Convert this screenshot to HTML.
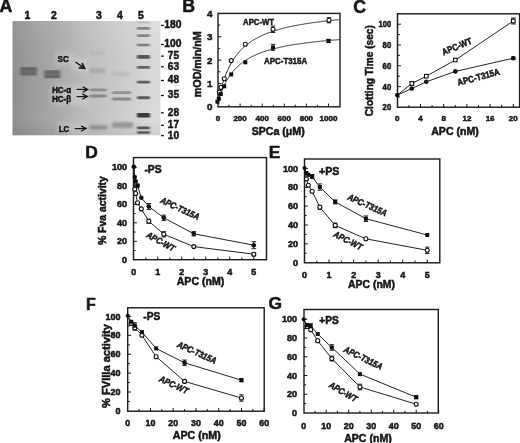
<!DOCTYPE html>
<html><head><meta charset="utf-8"><style>
html,body{margin:0;padding:0;background:#fff;}
body{width:520px;height:443px;overflow:hidden;}
svg{display:block;}
text{font-family:"Liberation Sans", sans-serif;font-weight:bold;fill:#151515;stroke:#151515;stroke-width:0.5px;}
</style></head><body>
<svg width="520" height="443" viewBox="0 0 520 443">
<defs>
<filter id="soft" x="0" y="0" width="520" height="443" filterUnits="userSpaceOnUse"><feGaussianBlur stdDeviation="0.5"/></filter>
<filter id="b1" x="-30%" y="-100%" width="160%" height="300%"><feGaussianBlur stdDeviation="0.9 0.7"/></filter>
<filter id="b2" x="-30%" y="-100%" width="160%" height="300%"><feGaussianBlur stdDeviation="1.2 1.0"/></filter>
<filter id="b3" x="-50%" y="-50%" width="200%" height="200%"><feGaussianBlur stdDeviation="2.5"/></filter>
<linearGradient id="gelg" x1="0" y1="0" x2="1" y2="0">
<stop offset="0" stop-color="#8c8c8c"/>
<stop offset="0.025" stop-color="#939393"/>
<stop offset="0.06" stop-color="#969696"/>
<stop offset="0.19" stop-color="#a2a2a2"/>
<stop offset="0.36" stop-color="#aeaeae"/>
<stop offset="0.48" stop-color="#bcbcbc"/>
<stop offset="0.65" stop-color="#c8c8c8"/>
<stop offset="0.81" stop-color="#d2d2d2"/>
<stop offset="0.93" stop-color="#dadada"/>
<stop offset="1" stop-color="#dddddd"/>
</linearGradient>
<linearGradient id="gelv" x1="0" y1="0" x2="0" y2="1">
<stop offset="0" stop-color="#fff" stop-opacity="0.06"/>
<stop offset="0.85" stop-color="#000" stop-opacity="0"/>
<stop offset="1" stop-color="#000" stop-opacity="0.06"/>
</linearGradient>
</defs>
<rect width="520" height="443" fill="#fff"/>
<g filter="url(#soft)">
<rect x="12.5" y="21" width="148" height="114.3" fill="url(#gelg)"/>
<rect x="12.5" y="21" width="148" height="114.3" fill="url(#gelv)"/>
<rect x="20.3" y="67.2" width="16.5" height="8.2" rx="0.8" fill="#6c6c6c" fill-opacity="0.95" filter="url(#b1)"/>
<rect x="20.5" y="67.3" width="16.1" height="3.2" rx="0.8" fill="#555" fill-opacity="0.4" filter="url(#b1)"/>
<rect x="20.5" y="72.2" width="16.1" height="3" rx="0.8" fill="#5a5a5a" fill-opacity="0.3" filter="url(#b1)"/>
<rect x="44.3" y="70.2" width="15.9" height="8" rx="0.8" fill="#6e6e6e" fill-opacity="0.95" filter="url(#b1)"/>
<rect x="44.5" y="70.4" width="15.5" height="3" rx="0.8" fill="#585858" fill-opacity="0.35" filter="url(#b1)"/>
<rect x="44.5" y="74.9" width="15.5" height="3" rx="0.8" fill="#585858" fill-opacity="0.35" filter="url(#b1)"/>
<rect x="90" y="51.5" width="15" height="3" rx="0.8" fill="#acacac" fill-opacity="0.5" filter="url(#b2)"/>
<rect x="89.5" y="68.3" width="16" height="5" rx="0.8" fill="#999" fill-opacity="0.6" filter="url(#b2)"/>
<rect x="89.5" y="88.5" width="17" height="2.8" rx="0.8" fill="#7c7c7c" fill-opacity="0.75" filter="url(#b1)"/>
<rect x="89.5" y="94.6" width="17" height="2.8" rx="0.8" fill="#787878" fill-opacity="0.8" filter="url(#b1)"/>
<rect x="89.5" y="125.6" width="17.5" height="4" rx="0.8" fill="#7e7e7e" fill-opacity="0.8" filter="url(#b2)"/>
<rect x="112" y="72.1" width="18" height="3.8" rx="0.8" fill="#acacac" fill-opacity="0.5" filter="url(#b2)"/>
<rect x="112" y="91.2" width="19" height="2.8" rx="0.8" fill="#7c7c7c" fill-opacity="0.75" filter="url(#b1)"/>
<rect x="112" y="97.6" width="19" height="2.8" rx="0.8" fill="#7a7a7a" fill-opacity="0.8" filter="url(#b1)"/>
<rect x="112.5" y="122.3" width="20.5" height="5.4" rx="0.8" fill="#868686" fill-opacity="0.75" filter="url(#b2)"/>
<rect x="137" y="21.6" width="13" height="1.6" rx="0.8" fill="#a4a4a4" fill-opacity="0.55" filter="url(#b1)"/>
<rect x="137" y="27.1" width="13" height="2.6" rx="0.8" fill="#767676" fill-opacity="0.85" filter="url(#b1)"/>
<rect x="137" y="34.3" width="13" height="2.6" rx="0.8" fill="#767676" fill-opacity="0.85" filter="url(#b1)"/>
<rect x="137" y="43.65" width="13" height="2.7" rx="0.8" fill="#727272" fill-opacity="0.88" filter="url(#b1)"/>
<rect x="137" y="55" width="13" height="3.8" rx="0.8" fill="#454545" fill-opacity="0.9" filter="url(#b1)"/>
<rect x="137" y="65.95" width="13" height="2.9" rx="0.8" fill="#555" fill-opacity="0.9" filter="url(#b1)"/>
<rect x="137" y="80.65" width="13" height="2.9" rx="0.8" fill="#505050" fill-opacity="0.9" filter="url(#b1)"/>
<rect x="137" y="96.25" width="13" height="2.9" rx="0.8" fill="#4e4e4e" fill-opacity="0.9" filter="url(#b1)"/>
<rect x="137" y="113.1" width="13" height="4.4" rx="0.8" fill="#333" fill-opacity="0.95" filter="url(#b1)"/>
<rect x="137" y="126.45" width="13" height="2.7" rx="0.8" fill="#4a4a4a" fill-opacity="0.9" filter="url(#b1)"/>
<rect x="137" y="131.35" width="13" height="2.5" rx="0.8" fill="#4e4e4e" fill-opacity="0.9" filter="url(#b1)"/>
<rect x="55" y="52" width="18" height="13" fill="#fff" fill-opacity="0.2" filter="url(#b3)"/>
<rect x="72" y="58" width="16" height="14" fill="#fff" fill-opacity="0.2" filter="url(#b3)"/>
<rect x="51" y="85" width="38" height="20" fill="#fff" fill-opacity="0.2" filter="url(#b3)"/>
<rect x="57" y="122" width="31" height="12" fill="#fff" fill-opacity="0.2" filter="url(#b3)"/>
<text x="63.3" y="61.98" font-size="9.4" text-anchor="middle" textLength="11.4" lengthAdjust="spacingAndGlyphs">SC</text>
<text x="61.6" y="93.4" font-size="8.6" text-anchor="middle" textLength="18.8" lengthAdjust="spacingAndGlyphs">HC-α</text>
<text x="61.6" y="101.6" font-size="8.6" text-anchor="middle" textLength="18.8" lengthAdjust="spacingAndGlyphs">HC-β</text>
<text x="63.9" y="131.94" font-size="9" text-anchor="middle" textLength="10.4" lengthAdjust="spacingAndGlyphs">LC</text>
<line x1="75.5" y1="62" x2="84.21" y2="68.15" stroke="#151515" stroke-width="1.3"/>
<polygon points="84.7,68.5 79.13,67.97 82.34,63.42" fill="#222" fill-opacity="0.55"/>
<polyline points="79.13,67.97 84.7,68.5 82.34,63.42" fill="none" stroke="#151515" stroke-width="1.5" stroke-linejoin="miter" stroke-linecap="round"/>
<line x1="76.6" y1="89.4" x2="87" y2="89.4" stroke="#151515" stroke-width="1.2"/>
<polyline points="83.21,91.8 87.6,89.4 83.21,87" fill="none" stroke="#151515" stroke-width="1.4" stroke-linejoin="miter" stroke-linecap="round"/>
<line x1="76.6" y1="96.6" x2="86.6" y2="96.6" stroke="#151515" stroke-width="1.2"/>
<polyline points="82.81,99 87.2,96.6 82.81,94.2" fill="none" stroke="#151515" stroke-width="1.4" stroke-linejoin="miter" stroke-linecap="round"/>
<line x1="74.8" y1="128.6" x2="85.3" y2="128.6" stroke="#151515" stroke-width="1.2"/>
<polyline points="81.51,131 85.9,128.6 81.51,126.2" fill="none" stroke="#151515" stroke-width="1.4" stroke-linejoin="miter" stroke-linecap="round"/>
<text x="27.5" y="18.73" font-size="10.4" text-anchor="middle">1</text>
<text x="54" y="18.73" font-size="10.4" text-anchor="middle">2</text>
<text x="99" y="18.73" font-size="10.4" text-anchor="middle">3</text>
<text x="120" y="18.73" font-size="10.4" text-anchor="middle">4</text>
<text x="141" y="18.73" font-size="10.4" text-anchor="middle">5</text>
<line x1="161" y1="25.4" x2="163.8" y2="25.4" stroke="#151515" stroke-width="1.3"/>
<text x="164.2" y="28.3" font-size="10.6" text-anchor="start" textLength="17.2" lengthAdjust="spacingAndGlyphs">180</text>
<line x1="161" y1="44.5" x2="163.8" y2="44.5" stroke="#151515" stroke-width="1.3"/>
<text x="164.2" y="47.4" font-size="10.6" text-anchor="start" textLength="17.2" lengthAdjust="spacingAndGlyphs">100</text>
<line x1="161" y1="56.1" x2="163.8" y2="56.1" stroke="#151515" stroke-width="1.3"/>
<text x="167.8" y="59" font-size="10.6" text-anchor="start" textLength="11.2" lengthAdjust="spacingAndGlyphs">75</text>
<line x1="161" y1="66.8" x2="163.8" y2="66.8" stroke="#151515" stroke-width="1.3"/>
<text x="167.8" y="69.7" font-size="10.6" text-anchor="start" textLength="11.2" lengthAdjust="spacingAndGlyphs">63</text>
<line x1="161" y1="80.5" x2="163.8" y2="80.5" stroke="#151515" stroke-width="1.3"/>
<text x="167.8" y="83.4" font-size="10.6" text-anchor="start" textLength="11.2" lengthAdjust="spacingAndGlyphs">48</text>
<line x1="161" y1="95.5" x2="163.8" y2="95.5" stroke="#151515" stroke-width="1.3"/>
<text x="167.8" y="98.4" font-size="10.6" text-anchor="start" textLength="11.2" lengthAdjust="spacingAndGlyphs">35</text>
<line x1="161" y1="112.8" x2="163.8" y2="112.8" stroke="#151515" stroke-width="1.3"/>
<text x="167.8" y="115.7" font-size="10.6" text-anchor="start" textLength="11.2" lengthAdjust="spacingAndGlyphs">28</text>
<line x1="161" y1="125.3" x2="163.8" y2="125.3" stroke="#151515" stroke-width="1.3"/>
<text x="167.8" y="128.2" font-size="10.6" text-anchor="start" textLength="11.2" lengthAdjust="spacingAndGlyphs">17</text>
<line x1="161" y1="135.6" x2="163.8" y2="135.6" stroke="#151515" stroke-width="1.3"/>
<text x="167.8" y="138.5" font-size="10.6" text-anchor="start" textLength="11.2" lengthAdjust="spacingAndGlyphs">10</text>
<text x="-0.4" y="12.3" font-size="17.8" text-anchor="start">A</text>
<text x="182.2" y="12.4" font-size="17.8" text-anchor="start">B</text>
<text x="353.2" y="12.6" font-size="17.8" text-anchor="start">C</text>
<text x="85.3" y="158.4" font-size="17.4" text-anchor="start">D</text>
<text x="268.8" y="158.4" font-size="17.4" text-anchor="start">E</text>
<text x="86" y="309.6" font-size="16" text-anchor="start">F</text>
<text x="268.6" y="308.9" font-size="17.4" text-anchor="start">G</text>
<rect x="218" y="13.4" width="122" height="93.4" fill="none" stroke="#1a1a1a" stroke-width="1.4"/>
<line x1="229.05" y1="106.8" x2="229.05" y2="104.8" stroke="#151515" stroke-width="1"/>
<line x1="240.1" y1="106.8" x2="240.1" y2="103.6" stroke="#151515" stroke-width="1"/>
<line x1="251.15" y1="106.8" x2="251.15" y2="104.8" stroke="#151515" stroke-width="1"/>
<line x1="262.2" y1="106.8" x2="262.2" y2="103.6" stroke="#151515" stroke-width="1"/>
<line x1="273.25" y1="106.8" x2="273.25" y2="104.8" stroke="#151515" stroke-width="1"/>
<line x1="284.3" y1="106.8" x2="284.3" y2="103.6" stroke="#151515" stroke-width="1"/>
<line x1="295.35" y1="106.8" x2="295.35" y2="104.8" stroke="#151515" stroke-width="1"/>
<line x1="306.4" y1="106.8" x2="306.4" y2="103.6" stroke="#151515" stroke-width="1"/>
<line x1="317.45" y1="106.8" x2="317.45" y2="104.8" stroke="#151515" stroke-width="1"/>
<line x1="328.5" y1="106.8" x2="328.5" y2="103.6" stroke="#151515" stroke-width="1"/>
<line x1="218" y1="95.12" x2="220.2" y2="95.12" stroke="#151515" stroke-width="1"/>
<line x1="218" y1="83.45" x2="221.4" y2="83.45" stroke="#151515" stroke-width="1"/>
<line x1="218" y1="71.77" x2="220.2" y2="71.77" stroke="#151515" stroke-width="1"/>
<line x1="218" y1="60.1" x2="221.4" y2="60.1" stroke="#151515" stroke-width="1"/>
<line x1="218" y1="48.42" x2="220.2" y2="48.42" stroke="#151515" stroke-width="1"/>
<line x1="218" y1="36.75" x2="221.4" y2="36.75" stroke="#151515" stroke-width="1"/>
<line x1="218" y1="25.07" x2="220.2" y2="25.07" stroke="#151515" stroke-width="1"/>
<text x="212.4" y="110.22" font-size="9.8" text-anchor="end">0</text>
<text x="212.4" y="86.87" font-size="9.8" text-anchor="end">1</text>
<text x="212.4" y="63.52" font-size="9.8" text-anchor="end">2</text>
<text x="212.4" y="40.17" font-size="9.8" text-anchor="end">3</text>
<text x="212.4" y="16.82" font-size="9.8" text-anchor="end">4</text>
<text x="218" y="121.09" font-size="8" text-anchor="middle">0</text>
<text x="240.1" y="121.09" font-size="8" text-anchor="middle">200</text>
<text x="262.2" y="121.09" font-size="8" text-anchor="middle">400</text>
<text x="284.3" y="121.09" font-size="8" text-anchor="middle">600</text>
<text x="306.4" y="121.09" font-size="8" text-anchor="middle">800</text>
<text x="328.5" y="121.09" font-size="8" text-anchor="middle">1000</text>
<text x="278.2" y="134.7" font-size="10.6" text-anchor="middle" textLength="53" lengthAdjust="spacingAndGlyphs">SPCa (μM)</text>
<text x="196.9" y="67.9" font-size="10.6" text-anchor="middle" textLength="66" lengthAdjust="spacingAndGlyphs" transform="rotate(-90 196.9 64.2)">mOD/min/nM</text>
<polyline points="218,102.6 218.55,99.86 219.1,97.28 219.66,94.83 220.21,92.52 220.76,90.32 221.31,88.24 221.87,86.25 222.42,84.36 222.97,82.56 223.53,80.84 224.08,79.2 224.63,77.62 225.18,76.12 225.74,74.67 226.29,73.29 226.84,71.96 227.39,70.69 227.94,69.46 228.5,68.28 229.05,67.14 229.6,66.04 230.16,64.99 230.71,63.97 231.26,62.98 231.81,62.03 232.37,61.11 232.92,60.22 233.47,59.36 234.02,58.53 234.57,57.72 235.13,56.94 235.68,56.18 236.23,55.44 236.78,54.73 237.34,54.04 237.89,53.36 238.44,52.71 239,52.07 239.55,51.45 240.1,50.85 240.65,50.26 241.21,49.69 241.76,49.13 242.31,48.59 242.86,48.06 243.41,47.55 243.97,47.05 244.52,46.56 245.07,46.08 245.62,45.61 246.18,45.16 246.73,44.71 247.28,44.28 247.84,43.85 248.39,43.43 248.94,43.03 249.49,42.63 250.05,42.24 250.6,41.86 251.15,41.49 251.7,41.13 252.25,40.77 252.81,40.42 253.36,40.08 253.91,39.74 254.47,39.41 255.02,39.09 255.57,38.77 256.12,38.46 256.68,38.16 257.23,37.86 257.78,37.57 258.33,37.28 258.88,37 259.44,36.72 259.99,36.45 260.54,36.19 261.1,35.92 261.65,35.67 262.2,35.41 262.75,35.17 263.31,34.92 263.86,34.68 264.41,34.45 264.96,34.21 265.51,33.99 266.07,33.76 266.62,33.54 267.17,33.33 267.73,33.11 268.28,32.9 268.83,32.7 269.38,32.49 269.94,32.29 270.49,32.09 271.04,31.9 271.59,31.71 272.14,31.52 272.7,31.34 273.25,31.15 273.8,30.97 274.36,30.8 274.91,30.62 275.46,30.45 276.01,30.28 276.56,30.11 277.12,29.95 277.67,29.78 278.22,29.62 278.77,29.47 279.33,29.31 279.88,29.16 280.43,29 280.99,28.86 281.54,28.71 282.09,28.56 282.64,28.42 283.19,28.28 283.75,28.14 284.3,28 284.85,27.86 285.4,27.73 285.96,27.59 286.51,27.46 287.06,27.33 287.62,27.21 288.17,27.08 288.72,26.95 289.27,26.83 289.82,26.71 290.38,26.59 290.93,26.47 291.48,26.35 292.03,26.24 292.59,26.12 293.14,26.01 293.69,25.9 294.25,25.79 294.8,25.68 295.35,25.57 295.9,25.46 296.45,25.36 297.01,25.25 297.56,25.15 298.11,25.05 298.67,24.95 299.22,24.85 299.77,24.75 300.32,24.65 300.88,24.55 301.43,24.46 301.98,24.36 302.53,24.27 303.08,24.18 303.64,24.08 304.19,23.99 304.74,23.9 305.3,23.82 305.85,23.73 306.4,23.64 306.95,23.55 307.5,23.47 308.06,23.38 308.61,23.3 309.16,23.22 309.72,23.14 310.27,23.06 310.82,22.98 311.37,22.9 311.93,22.82 312.48,22.74 313.03,22.66 313.58,22.59 314.13,22.51 314.69,22.44 315.24,22.36 315.79,22.29 316.35,22.22 316.9,22.14 317.45,22.07 318,22 318.56,21.93 319.11,21.86 319.66,21.79 320.21,21.72 320.76,21.66 321.32,21.59 321.87,21.52 322.42,21.46 322.98,21.39 323.53,21.33 324.08,21.26 324.63,21.2 325.19,21.14 325.74,21.08 326.29,21.01 326.84,20.95 327.39,20.89 327.95,20.83 328.5,20.77 329.05,20.71 329.61,20.65 330.16,20.6 330.71,20.54 331.26,20.48 331.81,20.42 332.37,20.37 332.92,20.31 333.47,20.26 334.02,20.2 334.58,20.15 335.13,20.09 335.68,20.04 336.24,19.99 336.79,19.93 337.34,19.88 337.89,19.83 338.44,19.78 339,19.73 339.55,19.68" fill="none" stroke="#222" stroke-width="1" stroke-linejoin="round"/>
<polyline points="218,102.6 218.55,100.66 219.1,98.83 219.66,97.08 220.21,95.42 220.76,93.84 221.31,92.33 221.87,90.9 222.42,89.52 222.97,88.21 223.53,86.95 224.08,85.74 224.63,84.58 225.18,83.47 225.74,82.41 226.29,81.38 226.84,80.39 227.39,79.44 227.94,78.53 228.5,77.64 229.05,76.79 229.6,75.97 230.16,75.17 230.71,74.4 231.26,73.66 231.81,72.94 232.37,72.24 232.92,71.57 233.47,70.91 234.02,70.28 234.57,69.66 235.13,69.07 235.68,68.49 236.23,67.92 236.78,67.37 237.34,66.84 237.89,66.32 238.44,65.82 239,65.33 239.55,64.85 240.1,64.39 240.65,63.93 241.21,63.49 241.76,63.06 242.31,62.64 242.86,62.23 243.41,61.83 243.97,61.44 244.52,61.06 245.07,60.69 245.62,60.33 246.18,59.97 246.73,59.62 247.28,59.28 247.84,58.95 248.39,58.63 248.94,58.31 249.49,58 250.05,57.69 250.6,57.39 251.15,57.1 251.7,56.81 252.25,56.53 252.81,56.26 253.36,55.99 253.91,55.73 254.47,55.47 255.02,55.21 255.57,54.96 256.12,54.72 256.68,54.48 257.23,54.24 257.78,54.01 258.33,53.78 258.88,53.56 259.44,53.34 259.99,53.13 260.54,52.92 261.1,52.71 261.65,52.51 262.2,52.3 262.75,52.11 263.31,51.91 263.86,51.72 264.41,51.54 264.96,51.35 265.51,51.17 266.07,50.99 266.62,50.82 267.17,50.64 267.73,50.47 268.28,50.31 268.83,50.14 269.38,49.98 269.94,49.82 270.49,49.66 271.04,49.51 271.59,49.35 272.14,49.2 272.7,49.06 273.25,48.91 273.8,48.77 274.36,48.62 274.91,48.48 275.46,48.35 276.01,48.21 276.56,48.08 277.12,47.94 277.67,47.81 278.22,47.68 278.77,47.56 279.33,47.43 279.88,47.31 280.43,47.19 280.99,47.07 281.54,46.95 282.09,46.83 282.64,46.72 283.19,46.6 283.75,46.49 284.3,46.38 284.85,46.27 285.4,46.16 285.96,46.05 286.51,45.95 287.06,45.84 287.62,45.74 288.17,45.64 288.72,45.54 289.27,45.44 289.82,45.34 290.38,45.24 290.93,45.15 291.48,45.05 292.03,44.96 292.59,44.87 293.14,44.78 293.69,44.68 294.25,44.6 294.8,44.51 295.35,44.42 295.9,44.33 296.45,44.25 297.01,44.16 297.56,44.08 298.11,44 298.67,43.92 299.22,43.83 299.77,43.75 300.32,43.68 300.88,43.6 301.43,43.52 301.98,43.44 302.53,43.37 303.08,43.29 303.64,43.22 304.19,43.15 304.74,43.07 305.3,43 305.85,42.93 306.4,42.86 306.95,42.79 307.5,42.72 308.06,42.65 308.61,42.58 309.16,42.52 309.72,42.45 310.27,42.38 310.82,42.32 311.37,42.26 311.93,42.19 312.48,42.13 313.03,42.07 313.58,42 314.13,41.94 314.69,41.88 315.24,41.82 315.79,41.76 316.35,41.7 316.9,41.64 317.45,41.59 318,41.53 318.56,41.47 319.11,41.41 319.66,41.36 320.21,41.3 320.76,41.25 321.32,41.19 321.87,41.14 322.42,41.09 322.98,41.03 323.53,40.98 324.08,40.93 324.63,40.88 325.19,40.83 325.74,40.77 326.29,40.72 326.84,40.67 327.39,40.63 327.95,40.58 328.5,40.53 329.05,40.48 329.61,40.43 330.16,40.38 330.71,40.34 331.26,40.29 331.81,40.24 332.37,40.2 332.92,40.15 333.47,40.11 334.02,40.06 334.58,40.02 335.13,39.97 335.68,39.93 336.24,39.89 336.79,39.84 337.34,39.8 337.89,39.76 338.44,39.72 339,39.68 339.55,39.63" fill="none" stroke="#222" stroke-width="1" stroke-linejoin="round"/>
<line x1="273" y1="26.1" x2="273" y2="32.5" stroke="#151515" stroke-width="0.9"/>
<line x1="270.7" y1="26.1" x2="275.3" y2="26.1" stroke="#151515" stroke-width="0.9"/>
<line x1="270.7" y1="32.5" x2="275.3" y2="32.5" stroke="#151515" stroke-width="0.9"/>
<line x1="329" y1="17.6" x2="329" y2="22.8" stroke="#151515" stroke-width="0.9"/>
<line x1="326.7" y1="17.6" x2="331.3" y2="17.6" stroke="#151515" stroke-width="0.9"/>
<line x1="326.7" y1="22.8" x2="331.3" y2="22.8" stroke="#151515" stroke-width="0.9"/>
<line x1="273" y1="44.3" x2="273" y2="50.3" stroke="#151515" stroke-width="0.9"/>
<line x1="270.7" y1="44.3" x2="275.3" y2="44.3" stroke="#151515" stroke-width="0.9"/>
<line x1="270.7" y1="50.3" x2="275.3" y2="50.3" stroke="#151515" stroke-width="0.9"/>
<line x1="328.6" y1="39.4" x2="328.6" y2="42.6" stroke="#151515" stroke-width="0.9"/>
<line x1="326.3" y1="39.4" x2="330.9" y2="39.4" stroke="#151515" stroke-width="0.9"/>
<line x1="326.3" y1="42.6" x2="330.9" y2="42.6" stroke="#151515" stroke-width="0.9"/>
<circle cx="329" cy="20.2" r="2" fill="#fff" stroke="#111" stroke-width="1.1"/>
<circle cx="273" cy="29.3" r="2" fill="#fff" stroke="#111" stroke-width="1.1"/>
<circle cx="245.3" cy="44.2" r="2" fill="#fff" stroke="#111" stroke-width="1.1"/>
<circle cx="231.2" cy="60.6" r="2" fill="#fff" stroke="#111" stroke-width="1.1"/>
<circle cx="224.3" cy="78.8" r="2" fill="#fff" stroke="#111" stroke-width="1.1"/>
<circle cx="221" cy="87.4" r="2" fill="#fff" stroke="#111" stroke-width="1.1"/>
<circle cx="219.4" cy="92.3" r="2" fill="#fff" stroke="#111" stroke-width="1.1"/>
<rect x="326.6" y="39" width="4" height="4" fill="#111"/>
<rect x="271" y="45.5" width="4" height="4" fill="#111"/>
<rect x="243.3" y="60.3" width="4" height="4" fill="#111"/>
<rect x="229.2" y="72.4" width="4" height="4" fill="#111"/>
<rect x="222.2" y="84.3" width="4" height="4" fill="#111"/>
<rect x="218.8" y="92" width="4" height="4" fill="#111"/>
<rect x="216.8" y="96.9" width="4" height="4" fill="#111"/>
<rect x="215.4" y="99.7" width="4" height="4" fill="#111"/>
<text x="258.6" y="24.51" font-size="9.2" text-anchor="middle" textLength="31" lengthAdjust="spacingAndGlyphs">APC-WT</text>
<text x="285.6" y="64.41" font-size="9.2" text-anchor="middle" textLength="43" lengthAdjust="spacingAndGlyphs">APC-T315A</text>
<rect x="397.5" y="13.8" width="122.1" height="93.4" fill="none" stroke="#1a1a1a" stroke-width="1.4"/>
<line x1="408.9" y1="107.2" x2="408.9" y2="105" stroke="#151515" stroke-width="1"/>
<line x1="420.5" y1="107.2" x2="420.5" y2="104" stroke="#151515" stroke-width="1"/>
<line x1="432.1" y1="107.2" x2="432.1" y2="105" stroke="#151515" stroke-width="1"/>
<line x1="443.7" y1="107.2" x2="443.7" y2="104" stroke="#151515" stroke-width="1"/>
<line x1="455.3" y1="107.2" x2="455.3" y2="105" stroke="#151515" stroke-width="1"/>
<line x1="466.9" y1="107.2" x2="466.9" y2="104" stroke="#151515" stroke-width="1"/>
<line x1="478.5" y1="107.2" x2="478.5" y2="105" stroke="#151515" stroke-width="1"/>
<line x1="490.1" y1="107.2" x2="490.1" y2="104" stroke="#151515" stroke-width="1"/>
<line x1="501.7" y1="107.2" x2="501.7" y2="105" stroke="#151515" stroke-width="1"/>
<line x1="513.3" y1="107.2" x2="513.3" y2="104" stroke="#151515" stroke-width="1"/>
<line x1="397.5" y1="97" x2="399.9" y2="97" stroke="#151515" stroke-width="1"/>
<line x1="397.5" y1="86.6" x2="400.9" y2="86.6" stroke="#151515" stroke-width="1"/>
<line x1="397.5" y1="76.2" x2="399.9" y2="76.2" stroke="#151515" stroke-width="1"/>
<line x1="397.5" y1="65.8" x2="400.9" y2="65.8" stroke="#151515" stroke-width="1"/>
<line x1="397.5" y1="55.4" x2="399.9" y2="55.4" stroke="#151515" stroke-width="1"/>
<line x1="397.5" y1="45" x2="400.9" y2="45" stroke="#151515" stroke-width="1"/>
<line x1="397.5" y1="34.6" x2="399.9" y2="34.6" stroke="#151515" stroke-width="1"/>
<line x1="397.5" y1="24.2" x2="400.9" y2="24.2" stroke="#151515" stroke-width="1"/>
<text x="391.2" y="110.47" font-size="8.8" text-anchor="end" textLength="8.6" lengthAdjust="spacingAndGlyphs">20</text>
<text x="391.2" y="89.67" font-size="8.8" text-anchor="end" textLength="8.6" lengthAdjust="spacingAndGlyphs">40</text>
<text x="391.2" y="68.87" font-size="8.8" text-anchor="end" textLength="8.6" lengthAdjust="spacingAndGlyphs">60</text>
<text x="391.2" y="48.07" font-size="8.8" text-anchor="end" textLength="8.6" lengthAdjust="spacingAndGlyphs">80</text>
<text x="391.2" y="27.27" font-size="8.8" text-anchor="end" textLength="12.6" lengthAdjust="spacingAndGlyphs">100</text>
<text x="397.3" y="121.29" font-size="8" text-anchor="middle">0</text>
<text x="420.5" y="121.29" font-size="8" text-anchor="middle">4</text>
<text x="443.7" y="121.29" font-size="8" text-anchor="middle">8</text>
<text x="466.9" y="121.29" font-size="8" text-anchor="middle">12</text>
<text x="490.1" y="121.29" font-size="8" text-anchor="middle">16</text>
<text x="513.3" y="121.29" font-size="8" text-anchor="middle">20</text>
<text x="455" y="135" font-size="10.6" text-anchor="middle" textLength="47.5" lengthAdjust="spacingAndGlyphs">APC (nM)</text>
<text x="369" y="74.26" font-size="10.2" text-anchor="middle" textLength="91" lengthAdjust="spacingAndGlyphs" transform="rotate(-90 369 70.7)">Clotting Time (sec)</text>
<polyline points="397.3,95.1 411.8,83.5 426.3,76.2 455.3,60 513.3,21" fill="none" stroke="#222" stroke-width="1" stroke-linejoin="round"/>
<polyline points="397.3,95.1 411.8,88.5 426.3,81.8 455.3,71.4 513.3,58.2" fill="none" stroke="#222" stroke-width="1" stroke-linejoin="round"/>
<line x1="513.3" y1="18" x2="513.3" y2="24" stroke="#151515" stroke-width="0.9"/>
<line x1="511" y1="18" x2="515.6" y2="18" stroke="#151515" stroke-width="0.9"/>
<line x1="511" y1="24" x2="515.6" y2="24" stroke="#151515" stroke-width="0.9"/>
<line x1="411.8" y1="81.5" x2="411.8" y2="85.5" stroke="#151515" stroke-width="0.9"/>
<line x1="409.5" y1="81.5" x2="414.1" y2="81.5" stroke="#151515" stroke-width="0.9"/>
<line x1="409.5" y1="85.5" x2="414.1" y2="85.5" stroke="#151515" stroke-width="0.9"/>
<line x1="513.3" y1="57" x2="513.3" y2="59.4" stroke="#151515" stroke-width="0.9"/>
<line x1="511" y1="57" x2="515.6" y2="57" stroke="#151515" stroke-width="0.9"/>
<line x1="511" y1="59.4" x2="515.6" y2="59.4" stroke="#151515" stroke-width="0.9"/>
<rect x="410" y="81.7" width="3.6" height="3.6" fill="#fff" stroke="#111" stroke-width="1.1"/>
<rect x="424.5" y="74.4" width="3.6" height="3.6" fill="#fff" stroke="#111" stroke-width="1.1"/>
<rect x="453.5" y="58.2" width="3.6" height="3.6" fill="#fff" stroke="#111" stroke-width="1.1"/>
<rect x="511.5" y="19.2" width="3.6" height="3.6" fill="#fff" stroke="#111" stroke-width="1.1"/>
<circle cx="397.3" cy="95.1" r="2.3" fill="#111"/>
<circle cx="411.8" cy="88.5" r="2.3" fill="#111"/>
<circle cx="426.3" cy="81.8" r="2.3" fill="#111"/>
<circle cx="455.3" cy="71.4" r="2.3" fill="#111"/>
<circle cx="513.3" cy="58.2" r="2.3" fill="#111"/>
<text x="456.9" y="49.61" font-size="9.2" text-anchor="middle" textLength="31.5" lengthAdjust="spacingAndGlyphs" transform="rotate(-22.8 456.9 46.4)">APC-WT</text>
<text x="478.5" y="80.21" font-size="9.2" text-anchor="middle" textLength="43.5" lengthAdjust="spacingAndGlyphs" transform="rotate(-15.3 478.5 77)">APC-T315A</text>
<rect x="133.5" y="157.6" width="133" height="102.1" fill="none" stroke="#1a1a1a" stroke-width="1.4"/>
<line x1="145.8" y1="259.7" x2="145.8" y2="257.5" stroke="#151515" stroke-width="1"/>
<line x1="157.8" y1="259.7" x2="157.8" y2="256.5" stroke="#151515" stroke-width="1"/>
<line x1="169.8" y1="259.7" x2="169.8" y2="257.5" stroke="#151515" stroke-width="1"/>
<line x1="181.8" y1="259.7" x2="181.8" y2="256.5" stroke="#151515" stroke-width="1"/>
<line x1="193.8" y1="259.7" x2="193.8" y2="257.5" stroke="#151515" stroke-width="1"/>
<line x1="205.8" y1="259.7" x2="205.8" y2="256.5" stroke="#151515" stroke-width="1"/>
<line x1="217.8" y1="259.7" x2="217.8" y2="257.5" stroke="#151515" stroke-width="1"/>
<line x1="229.8" y1="259.7" x2="229.8" y2="256.5" stroke="#151515" stroke-width="1"/>
<line x1="241.8" y1="259.7" x2="241.8" y2="257.5" stroke="#151515" stroke-width="1"/>
<line x1="253.8" y1="259.7" x2="253.8" y2="256.5" stroke="#151515" stroke-width="1"/>
<line x1="133.5" y1="250.55" x2="135.7" y2="250.55" stroke="#151515" stroke-width="1"/>
<line x1="133.5" y1="241.3" x2="136.9" y2="241.3" stroke="#151515" stroke-width="1"/>
<line x1="133.5" y1="232.05" x2="135.7" y2="232.05" stroke="#151515" stroke-width="1"/>
<line x1="133.5" y1="222.8" x2="136.9" y2="222.8" stroke="#151515" stroke-width="1"/>
<line x1="133.5" y1="213.55" x2="135.7" y2="213.55" stroke="#151515" stroke-width="1"/>
<line x1="133.5" y1="204.3" x2="136.9" y2="204.3" stroke="#151515" stroke-width="1"/>
<line x1="133.5" y1="195.05" x2="135.7" y2="195.05" stroke="#151515" stroke-width="1"/>
<line x1="133.5" y1="185.8" x2="136.9" y2="185.8" stroke="#151515" stroke-width="1"/>
<line x1="133.5" y1="176.55" x2="135.7" y2="176.55" stroke="#151515" stroke-width="1"/>
<line x1="133.5" y1="167.3" x2="136.9" y2="167.3" stroke="#151515" stroke-width="1"/>
<text x="127" y="262.94" font-size="9" text-anchor="end">0</text>
<text x="127" y="244.44" font-size="9" text-anchor="end">20</text>
<text x="127" y="225.94" font-size="9" text-anchor="end">40</text>
<text x="127" y="207.44" font-size="9" text-anchor="end">60</text>
<text x="127" y="188.94" font-size="9" text-anchor="end">80</text>
<text x="127" y="170.44" font-size="9" text-anchor="end">100</text>
<text x="133.8" y="274.71" font-size="8.9" text-anchor="middle">0</text>
<text x="157.8" y="274.71" font-size="8.9" text-anchor="middle">1</text>
<text x="181.8" y="274.71" font-size="8.9" text-anchor="middle">2</text>
<text x="205.8" y="274.71" font-size="8.9" text-anchor="middle">3</text>
<text x="229.8" y="274.71" font-size="8.9" text-anchor="middle">4</text>
<text x="253.8" y="274.71" font-size="8.9" text-anchor="middle">5</text>
<text x="200.5" y="284.9" font-size="10.6" text-anchor="middle" textLength="47.6" lengthAdjust="spacingAndGlyphs">APC (nM)</text>
<text x="102.5" y="214.09" font-size="10" text-anchor="middle" textLength="69" lengthAdjust="spacingAndGlyphs" transform="rotate(-90 102.5 210.6)">% Fva activity</text>
<polyline points="133.8,166.7 134.74,189.3 135.67,193.5 137.54,202.7 141.3,208.9 148.8,221.2 163.8,234.3 193.8,246.6 253.8,254.2" fill="none" stroke="#222" stroke-width="1" stroke-linejoin="round"/>
<polyline points="133.8,166.7 134.74,177 135.67,181.3 137.54,185.6 141.3,197.8 148.8,206.5 163.8,217.8 193.8,233.8 253.8,245.2" fill="none" stroke="#222" stroke-width="1" stroke-linejoin="round"/>
<line x1="148.8" y1="203.5" x2="148.8" y2="209.5" stroke="#151515" stroke-width="0.9"/>
<line x1="146.5" y1="203.5" x2="151.1" y2="203.5" stroke="#151515" stroke-width="0.9"/>
<line x1="146.5" y1="209.5" x2="151.1" y2="209.5" stroke="#151515" stroke-width="0.9"/>
<line x1="163.8" y1="215.1" x2="163.8" y2="220.5" stroke="#151515" stroke-width="0.9"/>
<line x1="161.5" y1="215.1" x2="166.1" y2="215.1" stroke="#151515" stroke-width="0.9"/>
<line x1="161.5" y1="220.5" x2="166.1" y2="220.5" stroke="#151515" stroke-width="0.9"/>
<line x1="193.8" y1="231.6" x2="193.8" y2="236" stroke="#151515" stroke-width="0.9"/>
<line x1="191.5" y1="231.6" x2="196.1" y2="231.6" stroke="#151515" stroke-width="0.9"/>
<line x1="191.5" y1="236" x2="196.1" y2="236" stroke="#151515" stroke-width="0.9"/>
<line x1="253.8" y1="241.7" x2="253.8" y2="248.7" stroke="#151515" stroke-width="0.9"/>
<line x1="251.5" y1="241.7" x2="256.1" y2="241.7" stroke="#151515" stroke-width="0.9"/>
<line x1="251.5" y1="248.7" x2="256.1" y2="248.7" stroke="#151515" stroke-width="0.9"/>
<line x1="137.54" y1="184.1" x2="137.54" y2="187.1" stroke="#151515" stroke-width="0.9"/>
<line x1="135.24" y1="184.1" x2="139.84" y2="184.1" stroke="#151515" stroke-width="0.9"/>
<line x1="135.24" y1="187.1" x2="139.84" y2="187.1" stroke="#151515" stroke-width="0.9"/>
<line x1="163.8" y1="231.6" x2="163.8" y2="237" stroke="#151515" stroke-width="0.9"/>
<line x1="161.5" y1="231.6" x2="166.1" y2="231.6" stroke="#151515" stroke-width="0.9"/>
<line x1="161.5" y1="237" x2="166.1" y2="237" stroke="#151515" stroke-width="0.9"/>
<line x1="148.8" y1="219.2" x2="148.8" y2="223.2" stroke="#151515" stroke-width="0.9"/>
<line x1="146.5" y1="219.2" x2="151.1" y2="219.2" stroke="#151515" stroke-width="0.9"/>
<line x1="146.5" y1="223.2" x2="151.1" y2="223.2" stroke="#151515" stroke-width="0.9"/>
<line x1="253.8" y1="252.7" x2="253.8" y2="255.7" stroke="#151515" stroke-width="0.9"/>
<line x1="251.5" y1="252.7" x2="256.1" y2="252.7" stroke="#151515" stroke-width="0.9"/>
<line x1="251.5" y1="255.7" x2="256.1" y2="255.7" stroke="#151515" stroke-width="0.9"/>
<circle cx="134.74" cy="189.3" r="2" fill="#fff" stroke="#111" stroke-width="1.1"/>
<circle cx="135.67" cy="193.5" r="2" fill="#fff" stroke="#111" stroke-width="1.1"/>
<circle cx="137.54" cy="202.7" r="2" fill="#fff" stroke="#111" stroke-width="1.1"/>
<circle cx="141.3" cy="208.9" r="2" fill="#fff" stroke="#111" stroke-width="1.1"/>
<circle cx="148.8" cy="221.2" r="2" fill="#fff" stroke="#111" stroke-width="1.1"/>
<circle cx="163.8" cy="234.3" r="2" fill="#fff" stroke="#111" stroke-width="1.1"/>
<circle cx="193.8" cy="246.6" r="2" fill="#fff" stroke="#111" stroke-width="1.1"/>
<circle cx="253.8" cy="254.2" r="2" fill="#fff" stroke="#111" stroke-width="1.1"/>
<circle cx="133.8" cy="166.7" r="2.3" fill="#111"/>
<circle cx="134.74" cy="177" r="2.3" fill="#111"/>
<circle cx="135.67" cy="181.3" r="2.3" fill="#111"/>
<circle cx="137.54" cy="185.6" r="2.3" fill="#111"/>
<circle cx="141.3" cy="197.8" r="2.3" fill="#111"/>
<circle cx="148.8" cy="206.5" r="2.3" fill="#111"/>
<circle cx="163.8" cy="217.8" r="2.3" fill="#111"/>
<circle cx="193.8" cy="233.8" r="2.3" fill="#111"/>
<circle cx="253.8" cy="245.2" r="2.3" fill="#111"/>
<text x="153" y="172.86" font-size="10.2" text-anchor="middle" textLength="17.2" lengthAdjust="spacingAndGlyphs">-PS</text>
<text x="180" y="211.64" font-size="9" text-anchor="middle" font-style="italic" textLength="42" lengthAdjust="spacingAndGlyphs" transform="rotate(25 180 208.5)">APC-T315A</text>
<text x="160.8" y="244.64" font-size="9" text-anchor="middle" font-style="italic" textLength="31" lengthAdjust="spacingAndGlyphs" transform="rotate(29 160.8 241.5)">APC-WT</text>
<rect x="304.5" y="159" width="135.3" height="103.8" fill="none" stroke="#1a1a1a" stroke-width="1.4"/>
<line x1="316.77" y1="262.8" x2="316.77" y2="260.6" stroke="#151515" stroke-width="1"/>
<line x1="329.05" y1="262.8" x2="329.05" y2="259.6" stroke="#151515" stroke-width="1"/>
<line x1="341.32" y1="262.8" x2="341.32" y2="260.6" stroke="#151515" stroke-width="1"/>
<line x1="353.6" y1="262.8" x2="353.6" y2="259.6" stroke="#151515" stroke-width="1"/>
<line x1="365.88" y1="262.8" x2="365.88" y2="260.6" stroke="#151515" stroke-width="1"/>
<line x1="378.15" y1="262.8" x2="378.15" y2="259.6" stroke="#151515" stroke-width="1"/>
<line x1="390.43" y1="262.8" x2="390.43" y2="260.6" stroke="#151515" stroke-width="1"/>
<line x1="402.7" y1="262.8" x2="402.7" y2="259.6" stroke="#151515" stroke-width="1"/>
<line x1="414.98" y1="262.8" x2="414.98" y2="260.6" stroke="#151515" stroke-width="1"/>
<line x1="427.25" y1="262.8" x2="427.25" y2="259.6" stroke="#151515" stroke-width="1"/>
<line x1="304.5" y1="253.27" x2="306.7" y2="253.27" stroke="#151515" stroke-width="1"/>
<line x1="304.5" y1="243.84" x2="307.9" y2="243.84" stroke="#151515" stroke-width="1"/>
<line x1="304.5" y1="234.41" x2="306.7" y2="234.41" stroke="#151515" stroke-width="1"/>
<line x1="304.5" y1="224.98" x2="307.9" y2="224.98" stroke="#151515" stroke-width="1"/>
<line x1="304.5" y1="215.55" x2="306.7" y2="215.55" stroke="#151515" stroke-width="1"/>
<line x1="304.5" y1="206.12" x2="307.9" y2="206.12" stroke="#151515" stroke-width="1"/>
<line x1="304.5" y1="196.69" x2="306.7" y2="196.69" stroke="#151515" stroke-width="1"/>
<line x1="304.5" y1="187.26" x2="307.9" y2="187.26" stroke="#151515" stroke-width="1"/>
<line x1="304.5" y1="177.83" x2="306.7" y2="177.83" stroke="#151515" stroke-width="1"/>
<line x1="304.5" y1="168.4" x2="307.9" y2="168.4" stroke="#151515" stroke-width="1"/>
<text x="298" y="265.84" font-size="9" text-anchor="end">0</text>
<text x="298" y="246.98" font-size="9" text-anchor="end">20</text>
<text x="298" y="228.12" font-size="9" text-anchor="end">40</text>
<text x="298" y="209.26" font-size="9" text-anchor="end">60</text>
<text x="298" y="190.4" font-size="9" text-anchor="end">80</text>
<text x="298" y="171.54" font-size="9" text-anchor="end">100</text>
<text x="304.5" y="277.91" font-size="8.9" text-anchor="middle">0</text>
<text x="329.05" y="277.91" font-size="8.9" text-anchor="middle">1</text>
<text x="353.6" y="277.91" font-size="8.9" text-anchor="middle">2</text>
<text x="378.15" y="277.91" font-size="8.9" text-anchor="middle">3</text>
<text x="402.7" y="277.91" font-size="8.9" text-anchor="middle">4</text>
<text x="427.25" y="277.91" font-size="8.9" text-anchor="middle">5</text>
<text x="371.5" y="288.3" font-size="10.6" text-anchor="middle" textLength="47" lengthAdjust="spacingAndGlyphs">APC (nM)</text>
<polyline points="304.5,168.1 306.41,179 308.33,185.3 312.17,191.2 319.84,207.3 335.19,225.4 365.88,238.8 427.25,250.3" fill="none" stroke="#222" stroke-width="1" stroke-linejoin="round"/>
<polyline points="304.5,168.1 306.41,173 308.33,174.8 312.17,176.6 319.84,187.1 335.19,201.9 365.88,218.7 427.25,235" fill="none" stroke="#222" stroke-width="1" stroke-linejoin="round"/>
<line x1="319.84" y1="183.9" x2="319.84" y2="190.3" stroke="#151515" stroke-width="0.9"/>
<line x1="317.54" y1="183.9" x2="322.14" y2="183.9" stroke="#151515" stroke-width="0.9"/>
<line x1="317.54" y1="190.3" x2="322.14" y2="190.3" stroke="#151515" stroke-width="0.9"/>
<line x1="335.19" y1="199.9" x2="335.19" y2="203.9" stroke="#151515" stroke-width="0.9"/>
<line x1="332.89" y1="199.9" x2="337.49" y2="199.9" stroke="#151515" stroke-width="0.9"/>
<line x1="332.89" y1="203.9" x2="337.49" y2="203.9" stroke="#151515" stroke-width="0.9"/>
<line x1="365.88" y1="215.9" x2="365.88" y2="221.5" stroke="#151515" stroke-width="0.9"/>
<line x1="363.57" y1="215.9" x2="368.18" y2="215.9" stroke="#151515" stroke-width="0.9"/>
<line x1="363.57" y1="221.5" x2="368.18" y2="221.5" stroke="#151515" stroke-width="0.9"/>
<line x1="312.17" y1="174.6" x2="312.17" y2="178.6" stroke="#151515" stroke-width="0.9"/>
<line x1="309.87" y1="174.6" x2="314.47" y2="174.6" stroke="#151515" stroke-width="0.9"/>
<line x1="309.87" y1="178.6" x2="314.47" y2="178.6" stroke="#151515" stroke-width="0.9"/>
<line x1="319.84" y1="205.3" x2="319.84" y2="209.3" stroke="#151515" stroke-width="0.9"/>
<line x1="317.54" y1="205.3" x2="322.14" y2="205.3" stroke="#151515" stroke-width="0.9"/>
<line x1="317.54" y1="209.3" x2="322.14" y2="209.3" stroke="#151515" stroke-width="0.9"/>
<line x1="335.19" y1="223.1" x2="335.19" y2="227.7" stroke="#151515" stroke-width="0.9"/>
<line x1="332.89" y1="223.1" x2="337.49" y2="223.1" stroke="#151515" stroke-width="0.9"/>
<line x1="332.89" y1="227.7" x2="337.49" y2="227.7" stroke="#151515" stroke-width="0.9"/>
<line x1="427.25" y1="247.1" x2="427.25" y2="253.5" stroke="#151515" stroke-width="0.9"/>
<line x1="424.95" y1="247.1" x2="429.55" y2="247.1" stroke="#151515" stroke-width="0.9"/>
<line x1="424.95" y1="253.5" x2="429.55" y2="253.5" stroke="#151515" stroke-width="0.9"/>
<circle cx="306.41" cy="179" r="2" fill="#fff" stroke="#111" stroke-width="1.1"/>
<circle cx="308.33" cy="185.3" r="2" fill="#fff" stroke="#111" stroke-width="1.1"/>
<circle cx="312.17" cy="191.2" r="2" fill="#fff" stroke="#111" stroke-width="1.1"/>
<circle cx="319.84" cy="207.3" r="2" fill="#fff" stroke="#111" stroke-width="1.1"/>
<circle cx="335.19" cy="225.4" r="2" fill="#fff" stroke="#111" stroke-width="1.1"/>
<circle cx="365.88" cy="238.8" r="2" fill="#fff" stroke="#111" stroke-width="1.1"/>
<circle cx="427.25" cy="250.3" r="2" fill="#fff" stroke="#111" stroke-width="1.1"/>
<circle cx="304.5" cy="168.1" r="2" fill="#111"/>
<rect x="304.41" y="171" width="4" height="4" fill="#111"/>
<rect x="306.33" y="172.8" width="4" height="4" fill="#111"/>
<rect x="310.17" y="174.6" width="4" height="4" fill="#111"/>
<rect x="317.84" y="185.1" width="4" height="4" fill="#111"/>
<rect x="333.19" y="199.9" width="4" height="4" fill="#111"/>
<rect x="363.88" y="216.7" width="4" height="4" fill="#111"/>
<rect x="425.25" y="233" width="4" height="4" fill="#111"/>
<text x="329.2" y="174.76" font-size="10.2" text-anchor="middle" textLength="20.4" lengthAdjust="spacingAndGlyphs">+PS</text>
<text x="367.4" y="208.14" font-size="9" text-anchor="middle" font-style="italic" textLength="42" lengthAdjust="spacingAndGlyphs" transform="rotate(24 367.4 205)">APC-T315A</text>
<text x="348.1" y="243.64" font-size="9" text-anchor="middle" font-style="italic" textLength="31" lengthAdjust="spacingAndGlyphs" transform="rotate(27 348.1 240.5)">APC-WT</text>
<rect x="127.7" y="307.8" width="136.5" height="103.4" fill="none" stroke="#1a1a1a" stroke-width="1.4"/>
<line x1="139.07" y1="411.2" x2="139.07" y2="409" stroke="#151515" stroke-width="1"/>
<line x1="150.45" y1="411.2" x2="150.45" y2="408" stroke="#151515" stroke-width="1"/>
<line x1="161.82" y1="411.2" x2="161.82" y2="409" stroke="#151515" stroke-width="1"/>
<line x1="173.2" y1="411.2" x2="173.2" y2="408" stroke="#151515" stroke-width="1"/>
<line x1="184.57" y1="411.2" x2="184.57" y2="409" stroke="#151515" stroke-width="1"/>
<line x1="195.95" y1="411.2" x2="195.95" y2="408" stroke="#151515" stroke-width="1"/>
<line x1="207.32" y1="411.2" x2="207.32" y2="409" stroke="#151515" stroke-width="1"/>
<line x1="218.7" y1="411.2" x2="218.7" y2="408" stroke="#151515" stroke-width="1"/>
<line x1="230.07" y1="411.2" x2="230.07" y2="409" stroke="#151515" stroke-width="1"/>
<line x1="241.45" y1="411.2" x2="241.45" y2="408" stroke="#151515" stroke-width="1"/>
<line x1="252.82" y1="411.2" x2="252.82" y2="409" stroke="#151515" stroke-width="1"/>
<line x1="264.2" y1="411.2" x2="264.2" y2="408" stroke="#151515" stroke-width="1"/>
<line x1="127.7" y1="401.45" x2="129.9" y2="401.45" stroke="#151515" stroke-width="1"/>
<line x1="127.7" y1="392" x2="131.1" y2="392" stroke="#151515" stroke-width="1"/>
<line x1="127.7" y1="382.55" x2="129.9" y2="382.55" stroke="#151515" stroke-width="1"/>
<line x1="127.7" y1="373.1" x2="131.1" y2="373.1" stroke="#151515" stroke-width="1"/>
<line x1="127.7" y1="363.65" x2="129.9" y2="363.65" stroke="#151515" stroke-width="1"/>
<line x1="127.7" y1="354.2" x2="131.1" y2="354.2" stroke="#151515" stroke-width="1"/>
<line x1="127.7" y1="344.75" x2="129.9" y2="344.75" stroke="#151515" stroke-width="1"/>
<line x1="127.7" y1="335.3" x2="131.1" y2="335.3" stroke="#151515" stroke-width="1"/>
<line x1="127.7" y1="325.85" x2="129.9" y2="325.85" stroke="#151515" stroke-width="1"/>
<line x1="127.7" y1="316.4" x2="131.1" y2="316.4" stroke="#151515" stroke-width="1"/>
<text x="120.6" y="414.04" font-size="9" text-anchor="end">0</text>
<text x="120.6" y="395.14" font-size="9" text-anchor="end">20</text>
<text x="120.6" y="376.24" font-size="9" text-anchor="end">40</text>
<text x="120.6" y="357.34" font-size="9" text-anchor="end">60</text>
<text x="120.6" y="338.44" font-size="9" text-anchor="end">80</text>
<text x="120.6" y="319.54" font-size="9" text-anchor="end">100</text>
<text x="127.7" y="425.91" font-size="8.9" text-anchor="middle">0</text>
<text x="150.45" y="425.91" font-size="8.9" text-anchor="middle">10</text>
<text x="173.2" y="425.91" font-size="8.9" text-anchor="middle">20</text>
<text x="195.95" y="425.91" font-size="8.9" text-anchor="middle">30</text>
<text x="218.7" y="425.91" font-size="8.9" text-anchor="middle">40</text>
<text x="241.45" y="425.91" font-size="8.9" text-anchor="middle">50</text>
<text x="264.2" y="425.91" font-size="8.9" text-anchor="middle">60</text>
<text x="196.8" y="439.3" font-size="10.6" text-anchor="middle" textLength="48" lengthAdjust="spacingAndGlyphs">APC (nM)</text>
<text x="106.6" y="369.63" font-size="10.4" text-anchor="middle" textLength="84" lengthAdjust="spacingAndGlyphs" transform="rotate(-90 106.6 366)">% FVIIIa activity</text>
<polyline points="127.7,315.8 131.25,323.4 134.81,328 141.92,335.2 156.14,356.7 184.57,381.4 241.45,398" fill="none" stroke="#222" stroke-width="1" stroke-linejoin="round"/>
<polyline points="127.7,315.8 131.25,321.8 134.81,325.7 141.92,332.1 156.14,348.4 184.57,362.8 241.45,380.2" fill="none" stroke="#222" stroke-width="1" stroke-linejoin="round"/>
<line x1="184.57" y1="360" x2="184.57" y2="365.6" stroke="#151515" stroke-width="0.9"/>
<line x1="182.27" y1="360" x2="186.88" y2="360" stroke="#151515" stroke-width="0.9"/>
<line x1="182.27" y1="365.6" x2="186.88" y2="365.6" stroke="#151515" stroke-width="0.9"/>
<line x1="134.81" y1="322.7" x2="134.81" y2="328.7" stroke="#151515" stroke-width="0.9"/>
<line x1="132.51" y1="322.7" x2="137.11" y2="322.7" stroke="#151515" stroke-width="0.9"/>
<line x1="132.51" y1="328.7" x2="137.11" y2="328.7" stroke="#151515" stroke-width="0.9"/>
<line x1="241.45" y1="378.7" x2="241.45" y2="381.7" stroke="#151515" stroke-width="0.9"/>
<line x1="239.15" y1="378.7" x2="243.75" y2="378.7" stroke="#151515" stroke-width="0.9"/>
<line x1="239.15" y1="381.7" x2="243.75" y2="381.7" stroke="#151515" stroke-width="0.9"/>
<line x1="241.45" y1="394.8" x2="241.45" y2="401.2" stroke="#151515" stroke-width="0.9"/>
<line x1="239.15" y1="394.8" x2="243.75" y2="394.8" stroke="#151515" stroke-width="0.9"/>
<line x1="239.15" y1="401.2" x2="243.75" y2="401.2" stroke="#151515" stroke-width="0.9"/>
<line x1="134.81" y1="325.8" x2="134.81" y2="330.2" stroke="#151515" stroke-width="0.9"/>
<line x1="132.51" y1="325.8" x2="137.11" y2="325.8" stroke="#151515" stroke-width="0.9"/>
<line x1="132.51" y1="330.2" x2="137.11" y2="330.2" stroke="#151515" stroke-width="0.9"/>
<line x1="184.57" y1="380.2" x2="184.57" y2="382.6" stroke="#151515" stroke-width="0.9"/>
<line x1="182.27" y1="380.2" x2="186.88" y2="380.2" stroke="#151515" stroke-width="0.9"/>
<line x1="182.27" y1="382.6" x2="186.88" y2="382.6" stroke="#151515" stroke-width="0.9"/>
<circle cx="131.25" cy="323.4" r="2" fill="#fff" stroke="#111" stroke-width="1.1"/>
<circle cx="134.81" cy="328" r="2" fill="#fff" stroke="#111" stroke-width="1.1"/>
<circle cx="141.92" cy="335.2" r="2" fill="#fff" stroke="#111" stroke-width="1.1"/>
<circle cx="156.14" cy="356.7" r="2" fill="#fff" stroke="#111" stroke-width="1.1"/>
<circle cx="184.57" cy="381.4" r="2" fill="#fff" stroke="#111" stroke-width="1.1"/>
<circle cx="241.45" cy="398" r="2" fill="#fff" stroke="#111" stroke-width="1.1"/>
<circle cx="127.7" cy="315.8" r="2" fill="#111"/>
<rect x="129.25" y="319.8" width="4" height="4" fill="#111"/>
<rect x="132.81" y="323.7" width="4" height="4" fill="#111"/>
<rect x="139.92" y="330.1" width="4" height="4" fill="#111"/>
<rect x="154.14" y="346.4" width="4" height="4" fill="#111"/>
<rect x="182.57" y="360.8" width="4" height="4" fill="#111"/>
<rect x="239.45" y="378.2" width="4" height="4" fill="#111"/>
<text x="151.8" y="319.86" font-size="10.2" text-anchor="middle" textLength="17" lengthAdjust="spacingAndGlyphs">-PS</text>
<text x="196.9" y="355.64" font-size="9" text-anchor="middle" font-style="italic" textLength="42" lengthAdjust="spacingAndGlyphs" transform="rotate(24.3 196.9 352.5)">APC-T315A</text>
<text x="173.8" y="387.94" font-size="9" text-anchor="middle" font-style="italic" textLength="31" lengthAdjust="spacingAndGlyphs" transform="rotate(25 173.8 384.8)">APC-WT</text>
<rect x="304" y="309.5" width="134.3" height="103.5" fill="none" stroke="#1a1a1a" stroke-width="1.4"/>
<line x1="314.95" y1="413" x2="314.95" y2="410.8" stroke="#151515" stroke-width="1"/>
<line x1="326.2" y1="413" x2="326.2" y2="409.8" stroke="#151515" stroke-width="1"/>
<line x1="337.45" y1="413" x2="337.45" y2="410.8" stroke="#151515" stroke-width="1"/>
<line x1="348.7" y1="413" x2="348.7" y2="409.8" stroke="#151515" stroke-width="1"/>
<line x1="359.95" y1="413" x2="359.95" y2="410.8" stroke="#151515" stroke-width="1"/>
<line x1="371.2" y1="413" x2="371.2" y2="409.8" stroke="#151515" stroke-width="1"/>
<line x1="382.45" y1="413" x2="382.45" y2="410.8" stroke="#151515" stroke-width="1"/>
<line x1="393.7" y1="413" x2="393.7" y2="409.8" stroke="#151515" stroke-width="1"/>
<line x1="404.95" y1="413" x2="404.95" y2="410.8" stroke="#151515" stroke-width="1"/>
<line x1="416.2" y1="413" x2="416.2" y2="409.8" stroke="#151515" stroke-width="1"/>
<line x1="427.45" y1="413" x2="427.45" y2="410.8" stroke="#151515" stroke-width="1"/>
<line x1="438.7" y1="413" x2="438.7" y2="409.8" stroke="#151515" stroke-width="1"/>
<line x1="304" y1="403.62" x2="306.2" y2="403.62" stroke="#151515" stroke-width="1"/>
<line x1="304" y1="394.24" x2="307.4" y2="394.24" stroke="#151515" stroke-width="1"/>
<line x1="304" y1="384.86" x2="306.2" y2="384.86" stroke="#151515" stroke-width="1"/>
<line x1="304" y1="375.48" x2="307.4" y2="375.48" stroke="#151515" stroke-width="1"/>
<line x1="304" y1="366.1" x2="306.2" y2="366.1" stroke="#151515" stroke-width="1"/>
<line x1="304" y1="356.72" x2="307.4" y2="356.72" stroke="#151515" stroke-width="1"/>
<line x1="304" y1="347.34" x2="306.2" y2="347.34" stroke="#151515" stroke-width="1"/>
<line x1="304" y1="337.96" x2="307.4" y2="337.96" stroke="#151515" stroke-width="1"/>
<line x1="304" y1="328.58" x2="306.2" y2="328.58" stroke="#151515" stroke-width="1"/>
<line x1="304" y1="319.2" x2="307.4" y2="319.2" stroke="#151515" stroke-width="1"/>
<text x="297" y="416.14" font-size="9" text-anchor="end">0</text>
<text x="297" y="397.38" font-size="9" text-anchor="end">20</text>
<text x="297" y="378.62" font-size="9" text-anchor="end">40</text>
<text x="297" y="359.86" font-size="9" text-anchor="end">60</text>
<text x="297" y="341.1" font-size="9" text-anchor="end">80</text>
<text x="297" y="322.34" font-size="9" text-anchor="end">100</text>
<text x="303.7" y="428.61" font-size="8.9" text-anchor="middle">0</text>
<text x="326.2" y="428.61" font-size="8.9" text-anchor="middle">10</text>
<text x="348.7" y="428.61" font-size="8.9" text-anchor="middle">20</text>
<text x="371.2" y="428.61" font-size="8.9" text-anchor="middle">30</text>
<text x="393.7" y="428.61" font-size="8.9" text-anchor="middle">40</text>
<text x="416.2" y="428.61" font-size="8.9" text-anchor="middle">50</text>
<text x="438.7" y="428.61" font-size="8.9" text-anchor="middle">60</text>
<text x="368" y="441.5" font-size="10.6" text-anchor="middle" textLength="47.7" lengthAdjust="spacingAndGlyphs">APC (nM)</text>
<polyline points="303.7,319.2 307.22,326.5 310.73,329.7 317.76,340.8 331.82,358.6 359.95,387 416.2,404.2" fill="none" stroke="#222" stroke-width="1" stroke-linejoin="round"/>
<polyline points="303.7,319.2 307.22,325 310.73,325.8 317.76,334 331.82,347.5 359.95,374.1 416.2,397.2" fill="none" stroke="#222" stroke-width="1" stroke-linejoin="round"/>
<line x1="331.82" y1="344.7" x2="331.82" y2="350.3" stroke="#151515" stroke-width="0.9"/>
<line x1="329.52" y1="344.7" x2="334.12" y2="344.7" stroke="#151515" stroke-width="0.9"/>
<line x1="329.52" y1="350.3" x2="334.12" y2="350.3" stroke="#151515" stroke-width="0.9"/>
<line x1="310.73" y1="323.8" x2="310.73" y2="327.8" stroke="#151515" stroke-width="0.9"/>
<line x1="308.43" y1="323.8" x2="313.03" y2="323.8" stroke="#151515" stroke-width="0.9"/>
<line x1="308.43" y1="327.8" x2="313.03" y2="327.8" stroke="#151515" stroke-width="0.9"/>
<line x1="416.2" y1="395.7" x2="416.2" y2="398.7" stroke="#151515" stroke-width="0.9"/>
<line x1="413.9" y1="395.7" x2="418.5" y2="395.7" stroke="#151515" stroke-width="0.9"/>
<line x1="413.9" y1="398.7" x2="418.5" y2="398.7" stroke="#151515" stroke-width="0.9"/>
<line x1="331.82" y1="356.2" x2="331.82" y2="361" stroke="#151515" stroke-width="0.9"/>
<line x1="329.52" y1="356.2" x2="334.12" y2="356.2" stroke="#151515" stroke-width="0.9"/>
<line x1="329.52" y1="361" x2="334.12" y2="361" stroke="#151515" stroke-width="0.9"/>
<line x1="359.95" y1="384.2" x2="359.95" y2="389.8" stroke="#151515" stroke-width="0.9"/>
<line x1="357.65" y1="384.2" x2="362.25" y2="384.2" stroke="#151515" stroke-width="0.9"/>
<line x1="357.65" y1="389.8" x2="362.25" y2="389.8" stroke="#151515" stroke-width="0.9"/>
<line x1="317.76" y1="339.3" x2="317.76" y2="342.3" stroke="#151515" stroke-width="0.9"/>
<line x1="315.46" y1="339.3" x2="320.06" y2="339.3" stroke="#151515" stroke-width="0.9"/>
<line x1="315.46" y1="342.3" x2="320.06" y2="342.3" stroke="#151515" stroke-width="0.9"/>
<circle cx="307.22" cy="326.5" r="2" fill="#fff" stroke="#111" stroke-width="1.1"/>
<circle cx="310.73" cy="329.7" r="2" fill="#fff" stroke="#111" stroke-width="1.1"/>
<circle cx="317.76" cy="340.8" r="2" fill="#fff" stroke="#111" stroke-width="1.1"/>
<circle cx="331.82" cy="358.6" r="2" fill="#fff" stroke="#111" stroke-width="1.1"/>
<circle cx="359.95" cy="387" r="2" fill="#fff" stroke="#111" stroke-width="1.1"/>
<circle cx="416.2" cy="404.2" r="2" fill="#fff" stroke="#111" stroke-width="1.1"/>
<circle cx="303.7" cy="319.2" r="2" fill="#111"/>
<rect x="305.22" y="323" width="4" height="4" fill="#111"/>
<rect x="308.73" y="323.8" width="4" height="4" fill="#111"/>
<rect x="315.76" y="332" width="4" height="4" fill="#111"/>
<rect x="329.82" y="345.5" width="4" height="4" fill="#111"/>
<rect x="357.95" y="372.1" width="4" height="4" fill="#111"/>
<rect x="414.2" y="395.2" width="4" height="4" fill="#111"/>
<text x="329" y="323.56" font-size="10.2" text-anchor="middle" textLength="19.4" lengthAdjust="spacingAndGlyphs">+PS</text>
<text x="363.2" y="361.14" font-size="9" text-anchor="middle" font-style="italic" textLength="42" lengthAdjust="spacingAndGlyphs" transform="rotate(26 363.2 358)">APC-T315A</text>
<text x="343.2" y="394.94" font-size="9" text-anchor="middle" font-style="italic" textLength="31" lengthAdjust="spacingAndGlyphs" transform="rotate(30 343.2 391.8)">APC-WT</text>
</g>
</svg>
</body></html>
